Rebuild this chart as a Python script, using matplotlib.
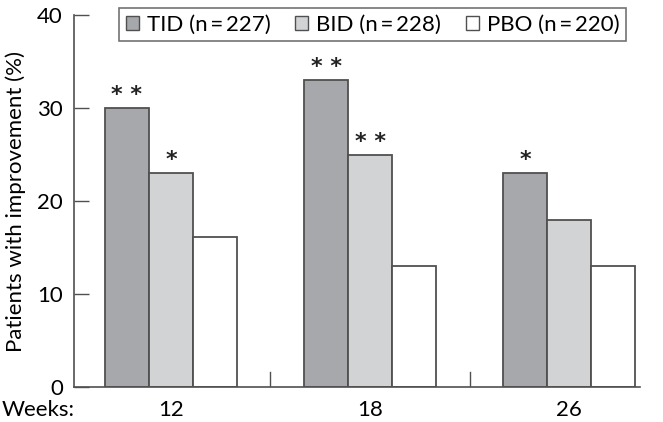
import numpy as np
import matplotlib
matplotlib.use('Agg')
import matplotlib.pyplot as plt
from matplotlib.patches import Patch

plt.rcParams['font.family'] = ['Lato', 'DejaVu Sans']

weeks = ['12', '18', '26']
groups = ['TID (n\u2009=\u2009227)', 'BID (n\u2009=\u2009228)', 'PBO (n\u2009=\u2009220)']
tid = [30, 33, 23]
bid = [23, 25, 18]
pbo = [16.2, 13, 13]
stars_tid = ['* *', '* *', '*']
stars_bid = ['*', '* *', '']

colors = ['#a7a8ab', '#d2d3d5', '#ffffff']
edge = '#505050'

fig = plt.figure(figsize=(6.63, 4.22), dpi=100)
ax = fig.add_axes([0.1116, 0.082, 0.854, 0.8825])

x = np.arange(len(weeks))
w = 0.221
for i, (vals, c) in enumerate(zip([tid, bid, pbo], colors)):
    ax.bar(x + (i - 1) * w, vals, width=w, color=c, edgecolor=edge, linewidth=1.3)

for xi, v, s in zip(x, tid, stars_tid):
    if s:
        ax.text(xi - w, v + 0.3, s, ha='center', va='bottom', fontsize=16,
                family='DejaVu Sans', weight='bold', color='#222222')
for xi, v, s in zip(x, bid, stars_bid):
    if s:
        ax.text(xi, v + 0.3, s, ha='center', va='bottom', fontsize=16,
                family='DejaVu Sans', weight='bold', color='#222222')

# separators between groups
for sx in [0.5, 1.5]:
    ax.plot([sx, sx], [0, 1.6], color=edge, lw=1.0)

ax.set_xlim(-0.487, 2.357)
ax.set_ylim(0, 40)
ax.set_yticks([0, 10, 20, 30, 40])
ax.set_xticks(x)
ax.set_xticklabels(weeks)
ax.tick_params(axis='y', direction='in', length=11, width=1.0, color=edge, labelsize=16, pad=8)
ax.tick_params(axis='x', length=0, labelsize=16, pad=9)
for sp in ['top', 'right']:
    ax.spines[sp].set_visible(False)
for sp in ['left', 'bottom']:
    ax.spines[sp].set_color(edge)
    ax.spines[sp].set_linewidth(1.2)
ax.set_ylabel('Patients with improvement (%)', fontsize=16, labelpad=8)
fig.text(0.003, 0.028, 'Weeks:', fontsize=16, ha='left', va='center')

handles = [Patch(facecolor=c, edgecolor=edge, linewidth=1.0) for c in colors]
leg = ax.legend(handles, groups, loc='upper left', ncol=3,
                bbox_to_anchor=(119 / 663, 1 - 8 / 422, (626 - 119) / 663, 0),
                bbox_transform=fig.transFigure, mode='expand',
                frameon=True, fancybox=False, fontsize=16,
                handlelength=0.6, handleheight=0.6, handletextpad=0.35,
                columnspacing=1.5, borderpad=0.3, borderaxespad=0)
leg.get_frame().set_edgecolor(edge)
leg.get_frame().set_linewidth(1.2)

fig.savefig('out.png', dpi=100)
